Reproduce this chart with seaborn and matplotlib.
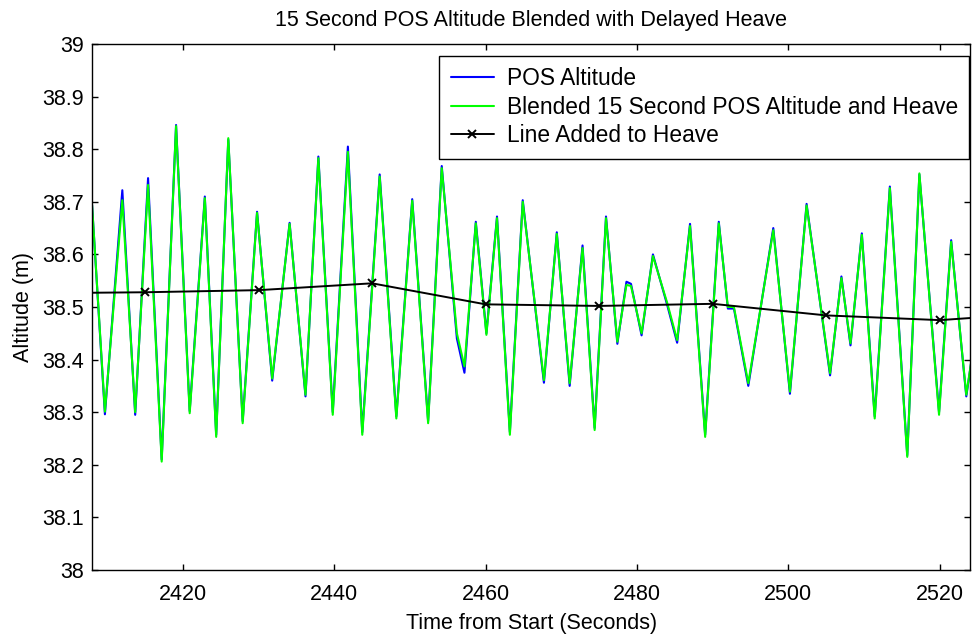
import matplotlib
matplotlib.use("Agg")
import matplotlib.pyplot as plt
import numpy
import pandas
import seaborn

# peaks / troughs (time in s, altitude in m)
times = [2408.0, 2409.7, 2412.0, 2413.7, 2415.4, 2417.2, 2419.1, 2420.9,
         2422.9, 2424.4, 2426.0, 2427.9, 2429.8, 2431.8, 2434.1, 2436.2,
         2437.9, 2439.8, 2441.8, 2443.7, 2446.0, 2448.2, 2450.3, 2452.4,
         2454.2, 2456.2, 2457.2, 2458.7, 2460.1, 2461.5, 2463.2, 2464.9,
         2467.7, 2469.4, 2471.1, 2472.8, 2474.4, 2475.9, 2477.4, 2478.6,
         2479.2, 2480.6, 2482.1, 2484.0, 2485.3, 2487.0, 2489.0, 2490.8,
         2492.0, 2492.8, 2494.7, 2498.0, 2500.2, 2502.4, 2505.5, 2507.0,
         2508.2, 2509.7, 2511.4, 2513.4, 2515.7, 2517.3, 2519.9, 2521.5,
         2523.5, 2524.2]
blended = [38.694, 38.301, 38.703, 38.300, 38.732, 38.206, 38.844, 38.298,
           38.707, 38.253, 38.821, 38.279, 38.679, 38.364, 38.658, 38.333,
           38.783, 38.295, 38.795, 38.257, 38.748, 38.288, 38.702, 38.279,
           38.764, 38.450, 38.387, 38.659, 38.447, 38.669, 38.257, 38.700,
           38.361, 38.639, 38.355, 38.612, 38.266, 38.669, 38.434, 38.542,
           38.540, 38.450, 38.597, 38.507, 38.437, 38.654, 38.253, 38.659,
           38.500, 38.500, 38.355, 38.646, 38.339, 38.693, 38.374, 38.555,
           38.431, 38.637, 38.288, 38.726, 38.215, 38.754, 38.295, 38.624,
           38.333, 38.400]
pos_alt = [38.694, 38.296, 38.722, 38.295, 38.745, 38.210, 38.846, 38.302,
           38.710, 38.257, 38.818, 38.283, 38.681, 38.360, 38.660, 38.330,
           38.786, 38.300, 38.805, 38.262, 38.752, 38.292, 38.705, 38.283,
           38.768, 38.440, 38.375, 38.662, 38.450, 38.672, 38.262, 38.703,
           38.356, 38.642, 38.350, 38.617, 38.270, 38.672, 38.430, 38.548,
           38.544, 38.446, 38.600, 38.503, 38.432, 38.658, 38.257, 38.662,
           38.497, 38.497, 38.350, 38.650, 38.335, 38.696, 38.370, 38.558,
           38.427, 38.640, 38.292, 38.729, 38.218, 38.752, 38.300, 38.627,
           38.330, 38.400]

line_t = [2400, 2415, 2430, 2445, 2460, 2475, 2490, 2505, 2520, 2535]
line_v = [38.526, 38.528, 38.532, 38.545, 38.505, 38.502, 38.506, 38.484,
          38.475, 38.490]

seaborn.set_style("ticks")
plt.rcParams["font.family"] = ["Liberation Sans", "DejaVu Sans"]
plt.rcParams["font.size"] = 15
plt.rcParams["text.color"] = "black"
plt.rcParams["axes.labelcolor"] = "black"

fig = plt.figure(figsize=(9.73, 6.34), dpi=100)
ax = fig.add_axes([0.0946, 0.101, 0.9024, 0.8296])

seaborn.lineplot(x=times, y=pos_alt, ax=ax, color="#0000ff", lw=1.5,
                 sort=False, estimator=None, label="POS Altitude")
seaborn.lineplot(x=times, y=blended, ax=ax, color="#00ff00", lw=1.5,
                 sort=False, estimator=None,
                 label="Blended 15 Second POS Altitude and Heave")
seaborn.lineplot(x=line_t, y=line_v, ax=ax, color="black", lw=1.4,
                 marker="x", markersize=6, markeredgewidth=1.4,
                 markeredgecolor="black", sort=False, estimator=None,
                 label="Line Added to Heave")

ax.set_xlim(2408, 2524)
ax.set_ylim(38, 39)
ax.set_xticks(range(2420, 2521, 20))
yt = numpy.round(numpy.arange(38, 39.01, 0.1), 1)
ax.set_yticks(yt)
ax.set_yticklabels(["38", "38.1", "38.2", "38.3", "38.4", "38.5", "38.6",
                    "38.7", "38.8", "38.9", "39"])
ax.tick_params(direction="in", top=True, right=True, length=4, width=1,
               labelsize=15.5, colors="black", pad=6)
ax.tick_params(axis="x", pad=10)
for s in ax.spines.values():
    s.set_color("black")
    s.set_linewidth(1.0)

ax.set_xlabel("Time from Start (Seconds)", fontsize=15.5, labelpad=6)
ax.set_ylabel("Altitude (m)", fontsize=15.5, labelpad=6)
ax.set_title("15 Second POS Altitude Blended with Delayed Heave",
             fontsize=15.5, pad=13)

leg = ax.legend(loc="upper right", bbox_to_anchor=(0.999, 0.978),
                borderaxespad=0, fancybox=False, framealpha=1,
                edgecolor="black", handlelength=1.9, handletextpad=0.55,
                borderpad=0.5, labelspacing=0.25, fontsize=16.4)
leg.get_frame().set_linewidth(1.0)

plt.savefig("out.png", dpi=100)
plt.close()
